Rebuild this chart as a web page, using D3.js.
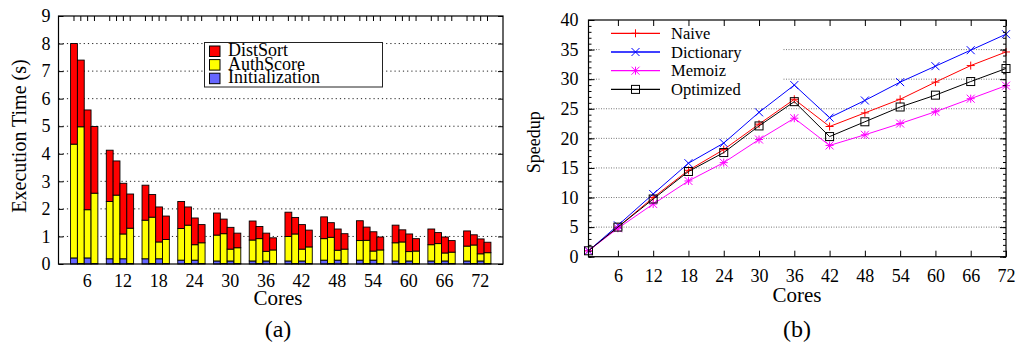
<html>
<head>
  <meta charset="UTF-8">
  <script src="https://d3js.org/d3.v7.min.js"></script>
  <style>
    body { margin: 0; background: white; }
    text { font-family: "Liberation Serif", "DejaVu Serif", serif; fill: black; }
  </style>
</head>
<body>
<svg width="1020" height="348"></svg>
<script>
  // ---- data ----
  let cores = [6, 12, 18, 24, 30, 36, 42, 48, 54, 60, 66, 72];
  // 4 bars per core count, segment heights in seconds
  let initTime = [
    [0.22, 0.02, 0.22, 0.02], [0.19, 0.02, 0.19, 0.02], [0.19, 0.02, 0.19, 0.02], [0.14, 0.02, 0.14, 0.02],
    [0.11, 0.02, 0.11, 0.02], [0.11, 0.02, 0.11, 0.02], [0.11, 0.02, 0.11, 0.02], [0.14, 0.02, 0.14, 0.02],
    [0.14, 0.02, 0.14, 0.02], [0.11, 0.02, 0.11, 0.02], [0.11, 0.02, 0.11, 0.02], [0.11, 0.02, 0.11, 0.02]
  ];
  let authScore = [
    [4.13, 4.96, 1.75, 2.55], [2.08, 2.48, 0.90, 1.28], [1.40, 1.68, 0.61, 0.87], [1.15, 1.39, 0.56, 0.75],
    [0.94, 1.08, 0.43, 0.57], [0.76, 0.90, 0.35, 0.49], [0.89, 1.07, 0.43, 0.60], [0.78, 0.95, 0.36, 0.52],
    [0.71, 0.84, 0.33, 0.49], [0.66, 0.78, 0.34, 0.45], [0.59, 0.72, 0.29, 0.41], [0.54, 0.67, 0.26, 0.39]
  ];
  let distSort = [
    [3.65, 2.42, 3.62, 2.42], [1.86, 1.24, 1.84, 1.24], [1.27, 0.82, 1.27, 0.85], [0.98, 0.66, 0.97, 0.66],
    [0.80, 0.53, 0.79, 0.53], [0.69, 0.44, 0.66, 0.44], [0.88, 0.60, 0.89, 0.61], [0.79, 0.53, 0.77, 0.56],
    [0.72, 0.48, 0.70, 0.47], [0.64, 0.44, 0.64, 0.45], [0.57, 0.40, 0.58, 0.42], [0.55, 0.37, 0.54, 0.38]
  ];
  let stackNames = ["Initialization", "AuthScore", "DistSort"];
  let stackColors = ["#6666ff", "#ffff00", "#ff0000"];

  let speedCores = [1, 6, 12, 18, 24, 30, 36, 42, 48, 54, 60, 66, 72];
  let naive      = [1, 5.0, 10.0, 14.6, 18.1, 22.4, 26.6, 22.0, 24.3, 26.6, 29.5, 32.3, 34.6];
  let dictionary = [1, 5.3, 10.6, 15.8, 19.2, 24.4, 29.0, 23.5, 26.4, 29.5, 32.2, 34.9, 37.6];
  let memoiz     = [1, 4.8, 8.9, 12.8, 15.9, 19.8, 23.4, 18.8, 20.6, 22.5, 24.5, 26.7, 28.9];
  let optimized  = [1, 5.0, 9.75, 14.4, 17.6, 22.1, 26.2, 20.3, 22.8, 25.3, 27.3, 29.6, 31.8];

  let serif = "Liberation Serif";
  let svg = d3.select("svg");

  // ================= (a) stacked bars =================
  let L = { left: 58.5, right: 503, top: 16, bottom: 264 };
  let yL = d3.scaleLinear().domain([0, 9]).range([L.bottom, L.top]);
  let xG = d3.scaleBand().domain(cores).range([L.left, L.right]).paddingInner(0.236).paddingOuter(0.338);
  let xB = d3.scaleBand().domain([0, 1, 2, 3]).range([0, xG.bandwidth()]);

  let gA = svg.append("g");

  // dotted grid
  gA.append("g").selectAll("line")
    .data(d3.range(1, 9))
    .enter().append("line")
    .attr("x1", L.left).attr("x2", L.right)
    .attr("y1", d => yL(d)).attr("y2", d => yL(d))
    .attr("stroke", "#222").attr("stroke-width", 1).attr("stroke-dasharray", "1.2,3");

  // bars
  let bars = [];
  cores.forEach((c, gi) => {
    for (let b = 0; b < 4; b++) {
      let segs = [initTime[gi][b], authScore[gi][b], distSort[gi][b]];
      let y0 = 0;
      segs.forEach((v, si) => {
        bars.push({ core: c, bar: b, s: si, y0: y0, y1: y0 + v });
        y0 += v;
      });
    }
  });
  gA.append("g").selectAll("rect")
    .data(bars)
    .enter().append("rect")
    .attr("x", d => xG(d.core) + xB(d.bar))
    .attr("width", xB.bandwidth())
    .attr("y", d => yL(d.y1))
    .attr("height", d => yL(d.y0) - yL(d.y1))
    .attr("fill", d => stackColors[d.s])
    .attr("stroke", "black").attr("stroke-width", 0.9);

  // frame
  gA.append("rect")
    .attr("x", L.left).attr("y", L.top)
    .attr("width", L.right - L.left).attr("height", L.bottom - L.top)
    .attr("fill", "none").attr("stroke", "black").attr("stroke-width", 1.2);

  // y axis with inward ticks
  let axL = gA.append("g").attr("transform", "translate(" + L.left + ",0)")
    .call(d3.axisLeft(yL).ticks(9).tickSize(-5).tickPadding(8))
    .attr("font-family", serif).attr("font-size", 18);
  axL.select(".domain").remove();
  axL.selectAll("text").style("font-size", "18px").style("font-family", serif);
  gA.append("g").attr("transform", "translate(" + L.right + ",0)")
    .call(d3.axisRight(yL).ticks(9).tickSize(-5).tickFormat(""))
    .select(".domain").remove();

  // top ticks at each bar
  let topTicks = [];
  cores.forEach(c => { for (let b = 0; b < 4; b++) topTicks.push(xG(c) + xB(b) + xB.bandwidth() / 2); });
  gA.append("g").selectAll("line")
    .data(topTicks)
    .enter().append("line")
    .attr("x1", d => d).attr("x2", d => d)
    .attr("y1", L.top).attr("y2", L.top + 5)
    .attr("stroke", "black");

  // x labels
  let axB = gA.append("g").attr("transform", "translate(3," + L.bottom + ")")
    .call(d3.axisBottom(xG).tickSize(0).tickPadding(10))
    .attr("font-family", serif).attr("font-size", 18);
  axB.select(".domain").remove();
  axB.selectAll("text").style("font-size", "18px").style("font-family", serif);

  gA.append("text")
    .attr("transform", "translate(26," + ((L.top + L.bottom) / 2 - 4) + ") rotate(-90)")
    .attr("text-anchor", "middle")
    .style("font-size", "20px")
    .text("Execution Time (s)");
  gA.append("text").attr("x", 278).attr("y", 305).attr("text-anchor", "middle")
    .style("font-size", "21px").text("Cores");
  gA.append("text").attr("x", 278).attr("y", 337).attr("text-anchor", "middle")
    .style("font-size", "24px").text("(a)");

  // legend
  let legA = gA.append("g");
  legA.append("rect").attr("x", 204.5).attr("y", 42.5).attr("width", 178).attr("height", 44.5)
    .attr("fill", "white").attr("stroke", "#222").attr("stroke-width", 1);
  let legOrder = [2, 1, 0];
  legOrder.forEach((si, i) => {
    legA.append("rect").attr("x", 209.5).attr("y", 46 + i * 13.6).attr("width", 10.5).attr("height", 10.5)
      .attr("fill", stackColors[si]).attr("stroke", "black");
    legA.append("text").attr("x", 228).attr("y", 56 + i * 13.6)
      .style("font-size", "18px").text(stackNames[si]);
  });

  // ================= (b) speedup lines =================
  let R = { left: 588.5, right: 1006, top: 20, bottom: 256.7 };
  let xR = d3.scaleLinear().domain([1, 72]).range([R.left, R.right]);
  let yR = d3.scaleLinear().domain([0, 40]).range([R.bottom, R.top]);
  let gB = svg.append("g");

  gB.append("g").selectAll("line")
    .data(d3.range(5, 40, 5))
    .enter().append("line")
    .attr("x1", R.left).attr("x2", R.right)
    .attr("y1", d => yR(d)).attr("y2", d => yR(d))
    .attr("stroke", "#777").attr("stroke-width", 1).attr("stroke-dasharray", "1,1.5");

  // opaque legend area
  gB.append("rect").attr("x", 600).attr("y", 22).attr("width", 183).attr("height", 78).attr("fill", "white");

  let series = [
    { name: "Naive", values: naive, color: "#ff0000", mark: "plus" },
    { name: "Dictionary", values: dictionary, color: "#0000ff", mark: "cross" },
    { name: "Memoiz", values: memoiz, color: "#ff00ff", mark: "star" },
    { name: "Optimized", values: optimized, color: "#000000", mark: "square" }
  ];

  function marker(g, type, x, y, color) {
    let s = 4;
    let p = g.append("g").attr("transform", "translate(" + x + "," + y + ")")
      .attr("stroke", color).attr("stroke-width", 1).attr("fill", "none");
    if (type === "plus" || type === "star") {
      p.append("line").attr("x1", -s).attr("x2", s).attr("y1", 0).attr("y2", 0);
      p.append("line").attr("x1", 0).attr("x2", 0).attr("y1", -s).attr("y2", s);
    }
    if (type === "cross" || type === "star") {
      p.append("line").attr("x1", -s).attr("x2", s).attr("y1", -s).attr("y2", s);
      p.append("line").attr("x1", -s).attr("x2", s).attr("y1", s).attr("y2", -s);
    }
    if (type === "square") {
      p.append("rect").attr("x", -s).attr("y", -s).attr("width", 2 * s).attr("height", 2 * s);
    }
  }

  let line = d3.line().x((d, i) => xR(speedCores[i])).y(d => yR(d));
  series.forEach(sr => {
    gB.append("path").datum(sr.values)
      .attr("d", line).attr("fill", "none").attr("stroke", sr.color).attr("stroke-width", 1);
    sr.values.forEach((v, i) => marker(gB, sr.mark, xR(speedCores[i]), yR(v), sr.color));
  });

  // frame
  gB.append("rect")
    .attr("x", R.left).attr("y", R.top)
    .attr("width", R.right - R.left).attr("height", R.bottom - R.top)
    .attr("fill", "none").attr("stroke", "black").attr("stroke-width", 1.2);

  let axRL = gB.append("g").attr("transform", "translate(" + R.left + ",0)")
    .call(d3.axisLeft(yR).tickValues(d3.range(0, 41, 5)).tickSize(-6).tickPadding(10))
    .attr("font-family", serif).attr("font-size", 18);
  axRL.select(".domain").remove();
  axRL.selectAll("text").style("font-size", "18px").style("font-family", serif);
  gB.append("g").attr("transform", "translate(" + R.right + ",0)")
    .call(d3.axisRight(yR).tickValues(d3.range(0, 41, 5)).tickSize(-6).tickFormat(""))
    .select(".domain").remove();
  // minor ticks
  gB.append("g").attr("transform", "translate(" + R.left + ",0)")
    .call(d3.axisLeft(yR).tickValues(d3.range(0, 41, 1)).tickSize(-3).tickFormat(""))
    .select(".domain").remove();
  gB.append("g").attr("transform", "translate(" + R.right + ",0)")
    .call(d3.axisRight(yR).tickValues(d3.range(0, 41, 1)).tickSize(-3).tickFormat(""))
    .select(".domain").remove();

  let axRB = gB.append("g").attr("transform", "translate(0," + R.bottom + ")")
    .call(d3.axisBottom(xR).tickValues(speedCores.slice(1)).tickSize(-6).tickPadding(13))
    .attr("font-family", serif).attr("font-size", 18);
  axRB.select(".domain").remove();
  axRB.selectAll("text").style("font-size", "18px").style("font-family", serif);
  gB.append("g").attr("transform", "translate(0," + R.top + ")")
    .call(d3.axisTop(xR).tickValues(speedCores.slice(1)).tickSize(-6).tickFormat(""))
    .select(".domain").remove();

  gB.append("text")
    .attr("transform", "translate(540," + ((R.top + R.bottom) / 2 + 4) + ") rotate(-90)")
    .attr("text-anchor", "middle")
    .style("font-size", "18px")
    .text("Speedup");
  gB.append("text").attr("x", 797).attr("y", 302).attr("text-anchor", "middle")
    .style("font-size", "21px").text("Cores");
  gB.append("text").attr("x", 797).attr("y", 337).attr("text-anchor", "middle")
    .style("font-size", "24px").text("(b)");

  // legend lines
  series.forEach((sr, i) => {
    let y = 33.3 + i * 18.7;
    gB.append("line").attr("x1", 611).attr("x2", 660).attr("y1", y).attr("y2", y)
      .attr("stroke", sr.color).attr("stroke-width", 1.3);
    marker(gB, sr.mark, 635.5, y, sr.color);
    gB.append("text").attr("x", 671).attr("y", y + 5.5).style("font-size", "16.5px").text(sr.name);
  });
</script>
</body>
</html>
